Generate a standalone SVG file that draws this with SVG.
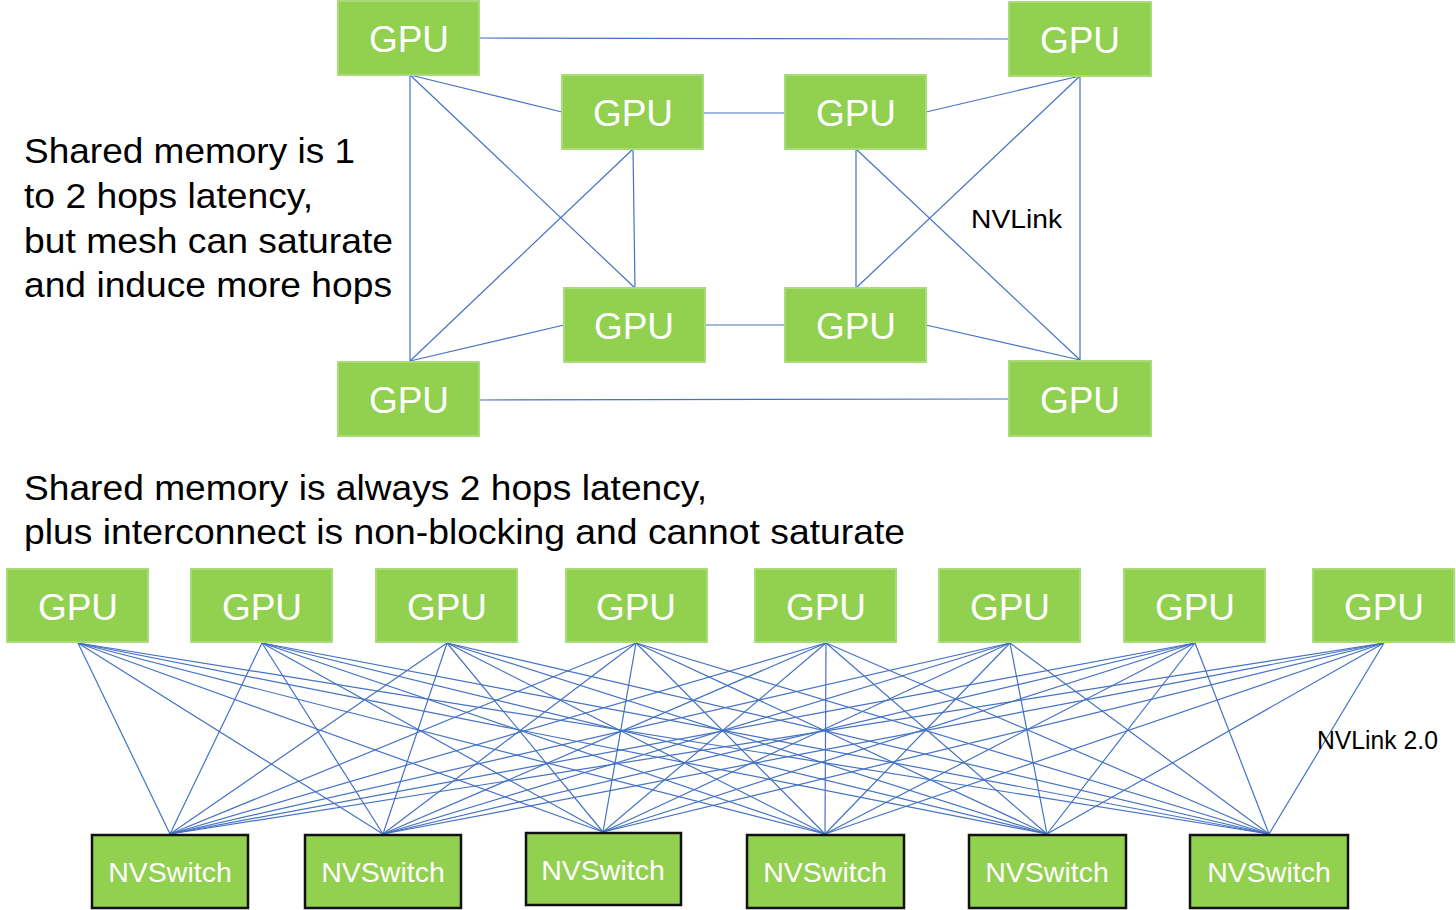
<svg xmlns="http://www.w3.org/2000/svg" width="1456" height="910" viewBox="0 0 1456 910">
<style>
.g{fill:#92D050;stroke:#A9DC78;stroke-width:2}
.s{fill:#92D050;stroke:#111;stroke-width:2.5}
.gt{font-family:"Liberation Sans",Arial,sans-serif;font-size:37px;fill:#fff;text-anchor:middle}
.st{font-family:"Liberation Sans",Arial,sans-serif;font-size:28.5px;fill:#fff;text-anchor:middle}
.t{font-family:"Liberation Sans",Arial,sans-serif;font-size:35px;fill:#000}
.l{font-family:"Liberation Sans",Arial,sans-serif;font-size:25px;fill:#000}
#c line{stroke:#4472C4;stroke-width:1.2}
</style>
<rect width="1456" height="910" fill="#fff"/>
<g id="c">
<line x1="479" y1="38" x2="1008" y2="39"/>
<line x1="479" y1="400" x2="1008" y2="399"/>
<line x1="410" y1="75" x2="410" y2="361"/>
<line x1="1080" y1="76" x2="1080" y2="360"/>
<line x1="410" y1="75" x2="562" y2="112"/>
<line x1="410" y1="75" x2="635" y2="288"/>
<line x1="633" y1="149" x2="410" y2="361"/>
<line x1="633" y1="149" x2="635" y2="288"/>
<line x1="564" y1="325" x2="410" y2="361"/>
<line x1="703" y1="113" x2="785" y2="113"/>
<line x1="705" y1="325" x2="785" y2="325"/>
<line x1="926" y1="112" x2="1080" y2="76"/>
<line x1="856" y1="149" x2="856" y2="288"/>
<line x1="856" y1="149" x2="1080" y2="360"/>
<line x1="856" y1="288" x2="1080" y2="76"/>
<line x1="926" y1="325" x2="1080" y2="360"/>
<g id="mesh">
<line x1="78" y1="643" x2="170" y2="834"/><line x1="78" y1="643" x2="383" y2="834"/><line x1="78" y1="643" x2="603" y2="832"/><line x1="78" y1="643" x2="825" y2="834"/><line x1="78" y1="643" x2="1047" y2="834"/><line x1="78" y1="643" x2="1269" y2="834"/>
<line x1="262" y1="643" x2="170" y2="834"/><line x1="262" y1="643" x2="383" y2="834"/><line x1="262" y1="643" x2="603" y2="832"/><line x1="262" y1="643" x2="825" y2="834"/><line x1="262" y1="643" x2="1047" y2="834"/><line x1="262" y1="643" x2="1269" y2="834"/>
<line x1="447" y1="643" x2="170" y2="834"/><line x1="447" y1="643" x2="383" y2="834"/><line x1="447" y1="643" x2="603" y2="832"/><line x1="447" y1="643" x2="825" y2="834"/><line x1="447" y1="643" x2="1047" y2="834"/><line x1="447" y1="643" x2="1269" y2="834"/>
<line x1="636" y1="643" x2="170" y2="834"/><line x1="636" y1="643" x2="383" y2="834"/><line x1="636" y1="643" x2="603" y2="832"/><line x1="636" y1="643" x2="825" y2="834"/><line x1="636" y1="643" x2="1047" y2="834"/><line x1="636" y1="643" x2="1269" y2="834"/>
<line x1="826" y1="643" x2="170" y2="834"/><line x1="826" y1="643" x2="383" y2="834"/><line x1="826" y1="643" x2="603" y2="832"/><line x1="826" y1="643" x2="825" y2="834"/><line x1="826" y1="643" x2="1047" y2="834"/><line x1="826" y1="643" x2="1269" y2="834"/>
<line x1="1010" y1="643" x2="170" y2="834"/><line x1="1010" y1="643" x2="383" y2="834"/><line x1="1010" y1="643" x2="603" y2="832"/><line x1="1010" y1="643" x2="825" y2="834"/><line x1="1010" y1="643" x2="1047" y2="834"/><line x1="1010" y1="643" x2="1269" y2="834"/>
<line x1="1195" y1="643" x2="170" y2="834"/><line x1="1195" y1="643" x2="383" y2="834"/><line x1="1195" y1="643" x2="603" y2="832"/><line x1="1195" y1="643" x2="825" y2="834"/><line x1="1195" y1="643" x2="1047" y2="834"/><line x1="1195" y1="643" x2="1269" y2="834"/>
<line x1="1384" y1="643" x2="170" y2="834"/><line x1="1384" y1="643" x2="383" y2="834"/><line x1="1384" y1="643" x2="603" y2="832"/><line x1="1384" y1="643" x2="825" y2="834"/><line x1="1384" y1="643" x2="1047" y2="834"/><line x1="1384" y1="643" x2="1269" y2="834"/>
</g>
</g>
<g id="gpu1"><rect class="g" x="338" y="1" width="141" height="74"/><text class="gt" x="409" y="52">GPU</text></g>
<g id="gpu2"><rect class="g" x="1009" y="2" width="142" height="74"/><text class="gt" x="1080" y="53">GPU</text></g>
<g id="gpu3"><rect class="g" x="562" y="75" width="141" height="74"/><text class="gt" x="633" y="126">GPU</text></g>
<g id="gpu4"><rect class="g" x="785" y="75" width="141" height="74"/><text class="gt" x="856" y="126">GPU</text></g>
<g id="gpu5"><rect class="g" x="564" y="288" width="141" height="74"/><text class="gt" x="634" y="339">GPU</text></g>
<g id="gpu6"><rect class="g" x="785" y="288" width="141" height="74"/><text class="gt" x="856" y="339">GPU</text></g>
<g id="gpu7"><rect class="g" x="338" y="362" width="141" height="74"/><text class="gt" x="409" y="413">GPU</text></g>
<g id="gpu8"><rect class="g" x="1009" y="361" width="142" height="75"/><text class="gt" x="1080" y="413">GPU</text></g>
<g id="b1"><rect class="g" x="7" y="569" width="141" height="73"/><text class="gt" x="78" y="620">GPU</text></g>
<g id="b2"><rect class="g" x="191" y="569" width="141" height="73"/><text class="gt" x="262" y="620">GPU</text></g>
<g id="b3"><rect class="g" x="376" y="569" width="141" height="73"/><text class="gt" x="447" y="620">GPU</text></g>
<g id="b4"><rect class="g" x="566" y="569" width="141" height="73"/><text class="gt" x="636" y="620">GPU</text></g>
<g id="b5"><rect class="g" x="755" y="569" width="141" height="73"/><text class="gt" x="826" y="620">GPU</text></g>
<g id="b6"><rect class="g" x="939" y="569" width="141" height="73"/><text class="gt" x="1010" y="620">GPU</text></g>
<g id="b7"><rect class="g" x="1124" y="569" width="141" height="73"/><text class="gt" x="1195" y="620">GPU</text></g>
<g id="b8"><rect class="g" x="1313" y="569" width="141" height="73"/><text class="gt" x="1384" y="620">GPU</text></g>
<g id="s1"><rect class="s" x="92" y="835" width="156" height="73"/><text class="st" x="170" y="882">NVSwitch</text></g>
<g id="s2"><rect class="s" x="305" y="835" width="156" height="73"/><text class="st" x="383" y="882">NVSwitch</text></g>
<g id="s3"><rect class="s" x="526" y="833" width="155" height="72"/><text class="st" x="603" y="880">NVSwitch</text></g>
<g id="s4"><rect class="s" x="747" y="835" width="157" height="73"/><text class="st" x="825" y="882">NVSwitch</text></g>
<g id="s5"><rect class="s" x="969" y="835" width="157" height="73"/><text class="st" x="1047" y="882">NVSwitch</text></g>
<g id="s6"><rect class="s" x="1190" y="835" width="158" height="73"/><text class="st" x="1269" y="882">NVSwitch</text></g>
<text class="t" x="24" y="163" textLength="331" lengthAdjust="spacingAndGlyphs">Shared memory is 1</text>
<text class="t" x="24" y="208" textLength="289" lengthAdjust="spacingAndGlyphs">to 2 hops latency,</text>
<text class="t" x="24" y="253" textLength="369" lengthAdjust="spacingAndGlyphs">but mesh can saturate</text>
<text class="t" x="24" y="297" textLength="368" lengthAdjust="spacingAndGlyphs">and induce more hops</text>
<text class="t" x="24" y="500" textLength="683" lengthAdjust="spacingAndGlyphs">Shared memory is always 2 hops latency,</text>
<text class="t" x="24" y="544" textLength="881" lengthAdjust="spacingAndGlyphs">plus interconnect is non-blocking and cannot saturate</text>
<text class="l" x="971" y="228" textLength="91" lengthAdjust="spacingAndGlyphs">NVLink</text>
<text class="l" x="1317" y="749" textLength="121" lengthAdjust="spacingAndGlyphs">NVLink 2.0</text>
</svg>
